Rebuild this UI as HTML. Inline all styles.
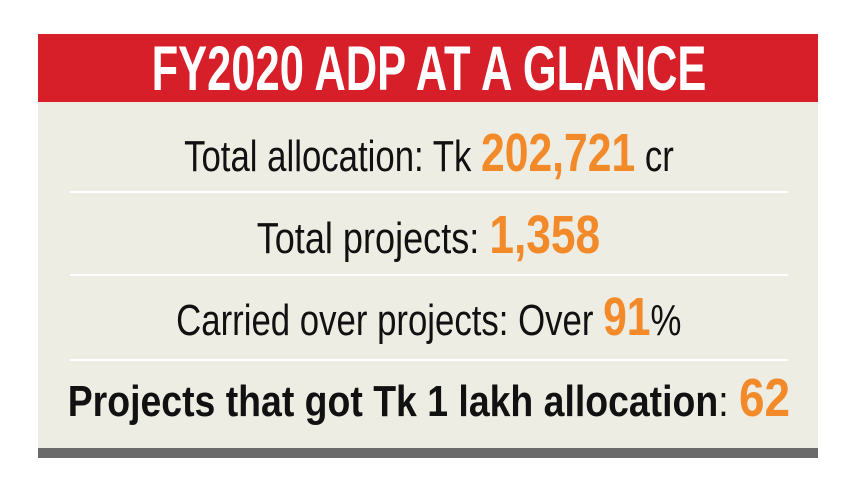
<!DOCTYPE html>
<html><head><meta charset="utf-8"><style>
html,body{margin:0;padding:0;background:#fff;width:857px;height:482px;overflow:hidden;font-family:"Liberation Sans",sans-serif;}
.red{position:absolute;left:38px;top:34px;width:780px;height:68px;background:#d71f2a;}
.body{position:absolute;left:38px;top:102px;width:780px;height:346px;background:#eeede3;}
.gray{position:absolute;left:38px;top:448px;width:780px;height:10px;background:#6b6b6b;}
.div{position:absolute;left:70px;width:718px;height:2px;background:#fff;}
.line{position:absolute;left:0;width:857px;text-align:center;white-space:nowrap;}
.line span.in{display:inline-block;transform-origin:center;}
.o{color:#f28a2a;font-weight:bold;}
</style></head><body>
<div class="red"></div>
<div class="body"></div>
<div class="gray"></div>
<div class="div" style="top:191px"></div>
<div class="div" style="top:274px"></div>
<div class="div" style="top:359px"></div>
<div class="line" style="top:37px;font-size:63px;line-height:64px;color:#fff;font-weight:bold;"><span class="in" style="transform:scaleX(0.69)">FY2020 ADP AT A GLANCE</span></div>
<div class="line" style="top:124px;font-size:44px;line-height:58px;color:#111;"><span class="in" style="transform:scaleX(0.79)">Total allocation: Tk <span class="o" style="font-size:54px">202,721</span> cr</span></div>
<div class="line" style="top:206px;font-size:44px;line-height:58px;color:#111;"><span class="in" style="transform:scaleX(0.82)">Total projects: <span class="o" style="font-size:54px">1,358</span></span></div>
<div class="line" style="top:288px;font-size:44px;line-height:58px;color:#111;"><span class="in" style="transform:scaleX(0.79)">Carried over projects: Over <span class="o" style="font-size:54px">91</span>%</span></div>
<div class="line" style="top:369px;font-size:44px;line-height:58px;color:#111;font-weight:bold;"><span class="in" style="transform:scaleX(0.85)">Projects that got Tk 1 lakh allocation<span style="font-weight:normal">:</span> <span class="o" style="font-size:54px">62</span></span></div>
</body></html>
